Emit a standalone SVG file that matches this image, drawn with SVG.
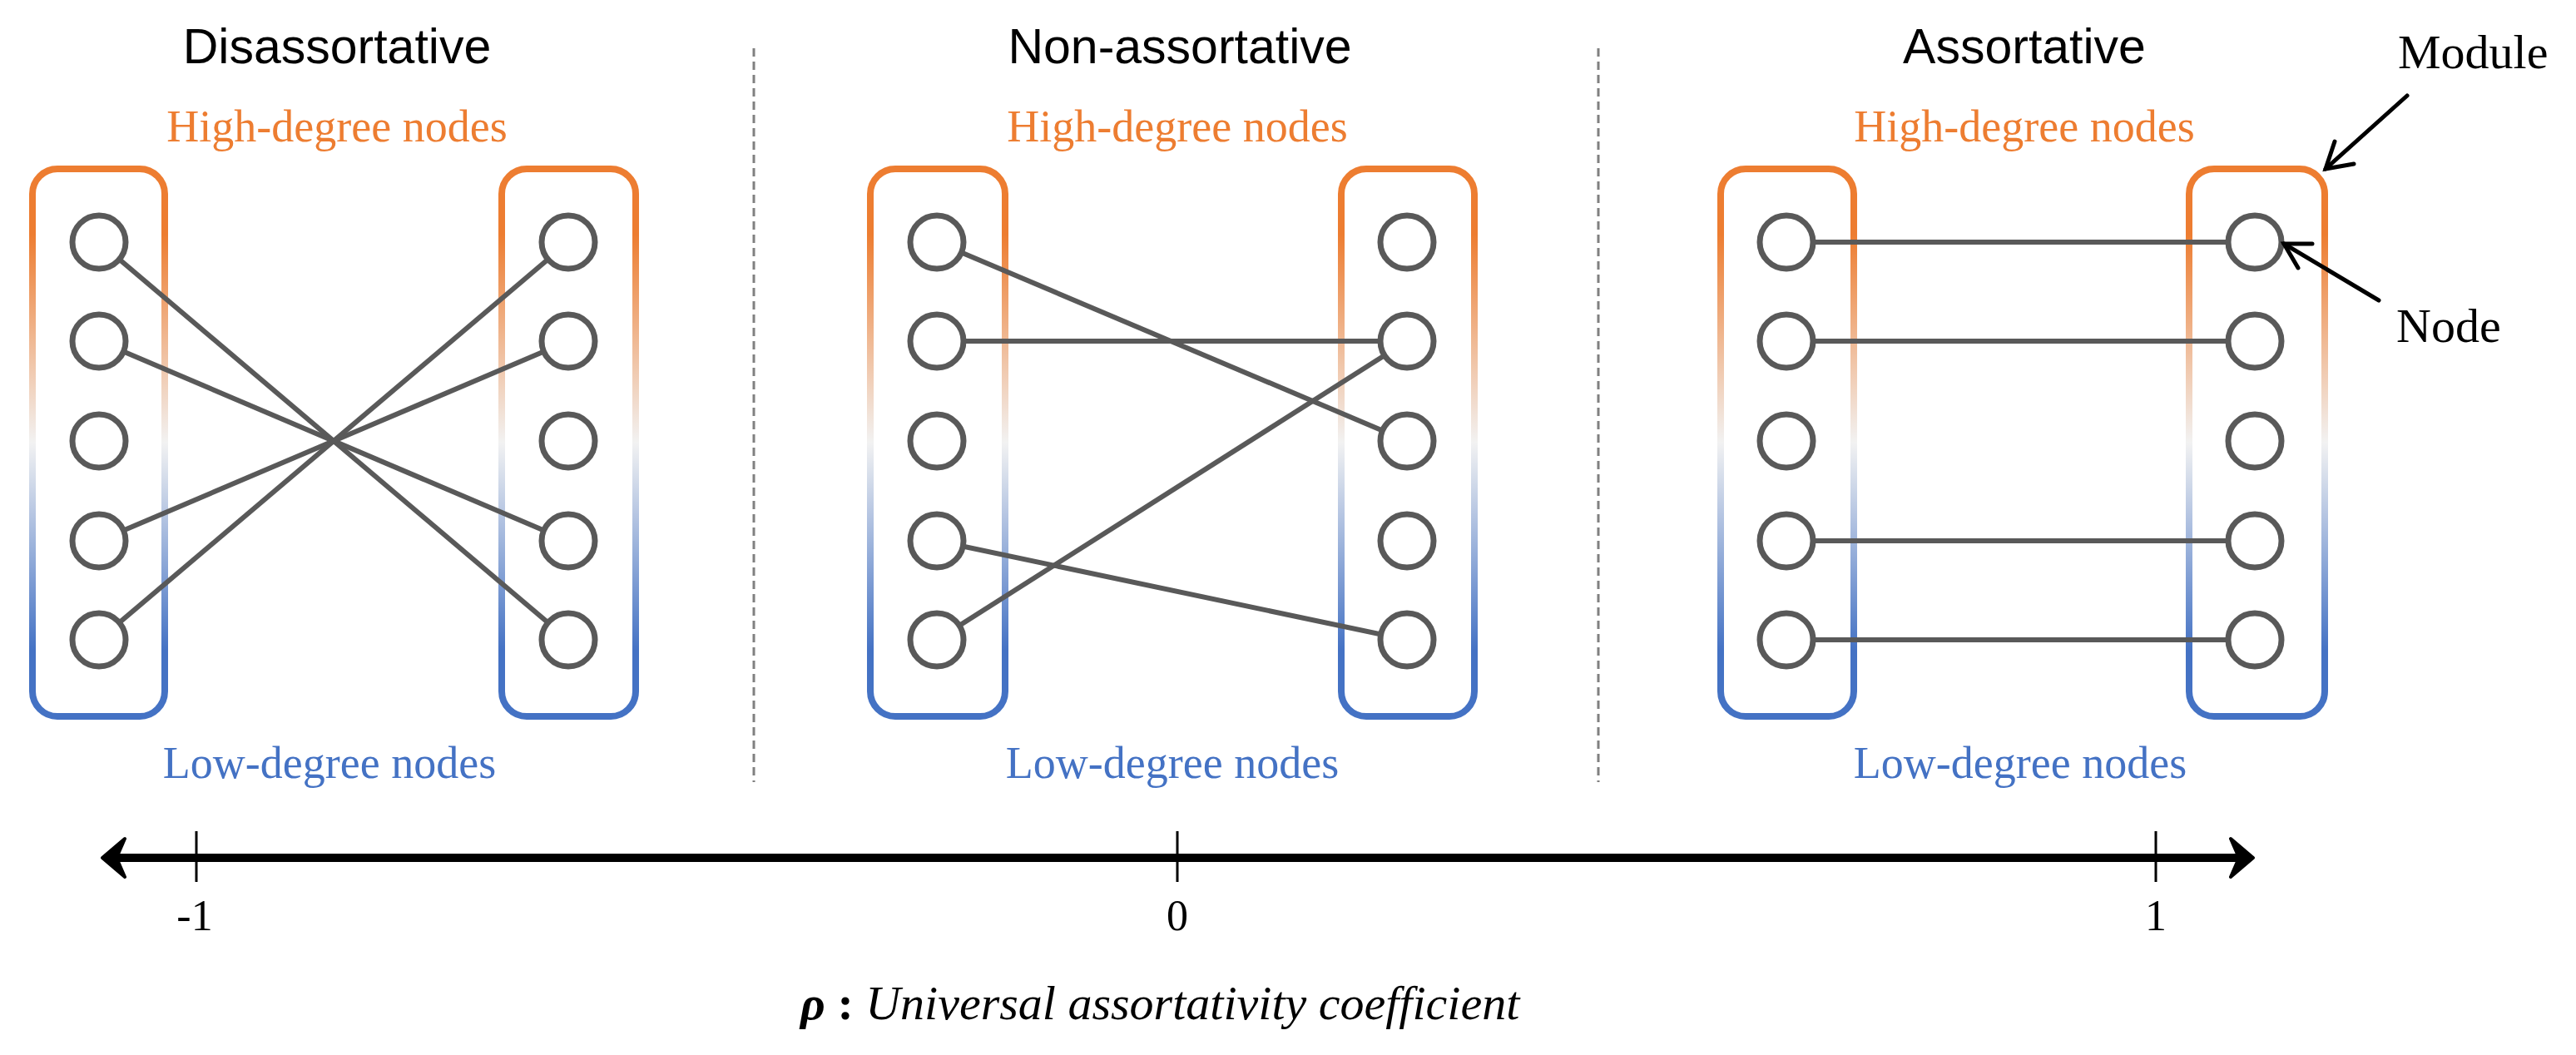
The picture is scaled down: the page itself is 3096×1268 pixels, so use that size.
<svg xmlns="http://www.w3.org/2000/svg" width="3096" height="1268" viewBox="0 0 3096 1268">
<style>
.title{font-family:"Liberation Sans",Arial,sans-serif;font-size:59px;fill:#000;text-anchor:middle}
.hi{font-family:"Liberation Serif","Times New Roman",serif;font-size:54px;fill:#ED7D31;text-anchor:middle}
.lo{font-family:"Liberation Serif","Times New Roman",serif;font-size:54px;fill:#4472C4;text-anchor:middle}
.lbl{font-family:"Liberation Serif","Times New Roman",serif;font-size:58px;fill:#000}
.tick{font-family:"Liberation Serif","Times New Roman",serif;font-size:52px;fill:#000;text-anchor:middle}
.mod{fill:none;stroke:url(#g);stroke-width:8}
.node{fill:#fff;stroke:#595959;stroke-width:7}
.edge{stroke:#595959;stroke-width:6;fill:none}
.dash{stroke:#808080;stroke-width:3;stroke-dasharray:10 6}
.ann{stroke:#000;stroke-width:5;fill:none;stroke-linecap:round}
</style>
<defs>
<linearGradient id="g" x1="0" y1="0" x2="0" y2="1">
<stop offset="0" stop-color="#ED7D31"/>
<stop offset="0.12" stop-color="#ED7D31"/>
<stop offset="0.5" stop-color="#f2f2f2"/>
<stop offset="0.88" stop-color="#4472C4"/>
<stop offset="1" stop-color="#4472C4"/>
</linearGradient>
<marker id="open" viewBox="0 0 20 20" refX="18" refY="10" markerWidth="9" markerHeight="9" orient="auto" markerUnits="userSpaceOnUse">
</marker>
</defs>
<rect width="3096" height="1268" fill="#fff"/>

<text class="title" x="405" y="76">Disassortative</text>
<text class="title" x="1418" y="76">Non-assortative</text>
<text class="title" x="2433" y="76">Assortative</text>
<text class="hi" x="405" y="170">High-degree nodes</text>
<text class="hi" x="1415" y="170">High-degree nodes</text>
<text class="hi" x="2433" y="170">High-degree nodes</text>
<text class="lo" x="396" y="935">Low-degree nodes</text>
<text class="lo" x="1409" y="935">Low-degree nodes</text>
<text class="lo" x="2428" y="935">Low-degree nodes</text>

<line class="dash" x1="906" y1="58" x2="906" y2="940"/>
<line class="dash" x1="1921" y1="58" x2="1921" y2="940"/>

<g id="modules">
<rect class="mod" x="39" y="203" width="159" height="658" rx="30"/>
<rect class="mod" x="603" y="203" width="161" height="658" rx="30"/>
<rect class="mod" x="1046" y="203" width="162" height="658" rx="30"/>
<rect class="mod" x="1612" y="203" width="160" height="658" rx="30"/>
<rect class="mod" x="2068" y="203" width="160" height="658" rx="30"/>
<rect class="mod" x="2631" y="203" width="163" height="658" rx="30"/>
</g>

<g id="connectors">
<line class="edge" x1="119" y1="291" x2="683" y2="769"/>
<line class="edge" x1="119" y1="410" x2="683" y2="650"/>
<line class="edge" x1="119" y1="650" x2="683" y2="410"/>
<line class="edge" x1="119" y1="769" x2="683" y2="291"/>
<line class="edge" x1="1126" y1="291" x2="1691" y2="530"/>
<line class="edge" x1="1126" y1="410" x2="1691" y2="410"/>
<line class="edge" x1="1126" y1="650" x2="1691" y2="769"/>
<line class="edge" x1="1126" y1="769" x2="1691" y2="410"/>
<line class="edge" x1="2147" y1="291" x2="2710" y2="291"/>
<line class="edge" x1="2147" y1="410" x2="2710" y2="410"/>
<line class="edge" x1="2147" y1="650" x2="2710" y2="650"/>
<line class="edge" x1="2147" y1="769" x2="2710" y2="769"/>
</g>

<g id="nodes-left"><circle class="node" cx="119" cy="291" r="32"/><circle class="node" cx="119" cy="410" r="32"/><circle class="node" cx="119" cy="530" r="32"/><circle class="node" cx="119" cy="650" r="32"/><circle class="node" cx="119" cy="769" r="32"/></g>
<g id="nodes-left-r"><circle class="node" cx="683" cy="291" r="32"/><circle class="node" cx="683" cy="410" r="32"/><circle class="node" cx="683" cy="530" r="32"/><circle class="node" cx="683" cy="650" r="32"/><circle class="node" cx="683" cy="769" r="32"/></g>
<g id="nodes-mid"><circle class="node" cx="1126" cy="291" r="32"/><circle class="node" cx="1126" cy="410" r="32"/><circle class="node" cx="1126" cy="530" r="32"/><circle class="node" cx="1126" cy="650" r="32"/><circle class="node" cx="1126" cy="769" r="32"/></g>
<g id="nodes-mid-r"><circle class="node" cx="1691" cy="291" r="32"/><circle class="node" cx="1691" cy="410" r="32"/><circle class="node" cx="1691" cy="530" r="32"/><circle class="node" cx="1691" cy="650" r="32"/><circle class="node" cx="1691" cy="769" r="32"/></g>
<g id="nodes-right"><circle class="node" cx="2147" cy="291" r="32"/><circle class="node" cx="2147" cy="410" r="32"/><circle class="node" cx="2147" cy="530" r="32"/><circle class="node" cx="2147" cy="650" r="32"/><circle class="node" cx="2147" cy="769" r="32"/></g>
<g id="nodes-right-r"><circle class="node" cx="2710" cy="291" r="32"/><circle class="node" cx="2710" cy="410" r="32"/><circle class="node" cx="2710" cy="530" r="32"/><circle class="node" cx="2710" cy="650" r="32"/><circle class="node" cx="2710" cy="769" r="32"/></g>

<g id="annotations">
<text class="lbl" x="2882" y="82">Module</text>
<line class="ann" x1="2893" y1="115" x2="2795" y2="203"/>
<polyline class="ann" points="2806,170 2795,203 2829,197"/>
<text class="lbl" x="2880" y="411">Node</text>
<line class="ann" x1="2859" y1="361" x2="2745" y2="293"/>
<polyline class="ann" points="2762,322 2745,293 2779,293"/>
</g>

<g id="axis">
<line x1="135" y1="1031" x2="2695" y2="1031" stroke="#000" stroke-width="10"/>
<path d="M123,1031 L150,1008 L140,1031 L150,1054 Z" fill="#000" stroke="#000" stroke-width="4" stroke-linejoin="round"/>
<path d="M2708,1031 L2681,1008 L2691,1031 L2681,1054 Z" fill="#000" stroke="#000" stroke-width="4" stroke-linejoin="round"/>
<line x1="236" y1="999" x2="236" y2="1060" stroke="#000" stroke-width="3"/>
<line x1="1415" y1="999" x2="1415" y2="1060" stroke="#000" stroke-width="3"/>
<line x1="2591" y1="999" x2="2591" y2="1060" stroke="#000" stroke-width="3"/>
<text class="tick" x="234" y="1118">-1</text>
<text class="tick" x="1415" y="1118">0</text>
<text class="tick" x="2591" y="1118">1</text>
<text class="lbl" x="962" y="1225"><tspan font-weight="bold" font-style="italic">ρ</tspan><tspan font-weight="bold"> : </tspan><tspan font-style="italic">Universal assortativity coefficient</tspan></text>
</g>
</svg>
